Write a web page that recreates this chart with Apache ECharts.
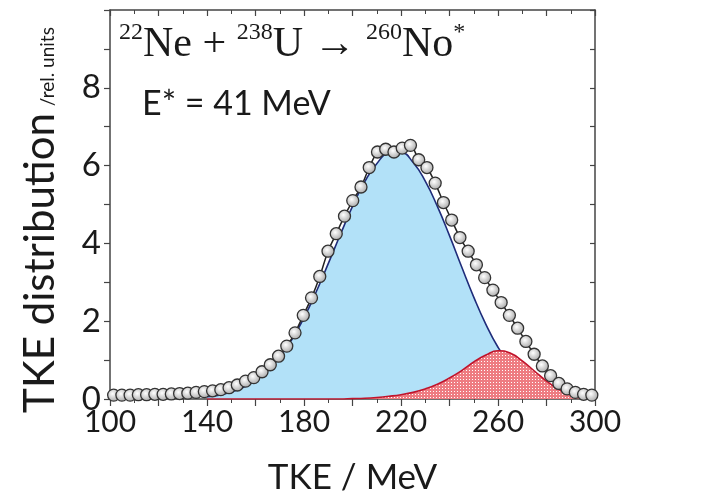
<!DOCTYPE html>
<html>
<head>
<meta charset="utf-8">
<script src="https://cdn.jsdelivr.net/npm/echarts@6/dist/echarts.min.js"></script>
<style>
  html, body { margin: 0; padding: 0; background: #fff; }
  #main { width: 711px; height: 500px; }
</style>
</head>
<body>
<div id="main"></div>
<script>
// measured TKE distribution (open circles)
var tke = [101.5, 104.9, 108.3, 111.7, 115.1, 118.5, 121.9, 125.3, 128.7, 132.1,
           135.5, 138.9, 142.3, 145.7, 149.1, 152.5, 155.9, 159.3, 162.7, 166.1,
           169.5, 172.9, 176.3, 179.7, 183.1, 186.5, 189.9, 193.3, 196.7, 200.1,
           203.5, 206.9, 210.3, 213.7, 217.1, 220.5, 223.9, 227.3, 230.7, 234.1,
           237.5, 240.9, 244.3, 247.7, 251.1, 254.5, 257.9, 261.3, 264.7, 268.1,
           271.5, 274.9, 278.3, 281.7, 285.1, 288.5, 291.9, 295.3, 298.7];
var counts = [0.10, 0.10, 0.10, 0.11, 0.11, 0.12, 0.12, 0.13, 0.14, 0.15,
              0.17, 0.19, 0.21, 0.24, 0.29, 0.36, 0.46, 0.55, 0.70, 0.88,
              1.10, 1.36, 1.70, 2.15, 2.60, 3.15, 3.80, 4.25, 4.70, 5.10,
              5.45, 5.95, 6.35, 6.42, 6.35, 6.45, 6.52, 6.15, 5.95, 5.55,
              5.05, 4.60, 4.15, 3.80, 3.45, 3.12, 2.80, 2.48, 2.15, 1.82,
              1.48, 1.15, 0.85, 0.60, 0.40, 0.26, 0.17, 0.12, 0.10];

// fit components
var fitTke = [140, 145, 150, 155, 160, 165, 170, 175, 180, 185, 190, 195, 200, 205,
              210, 215, 220, 225, 230, 235, 240, 245, 250, 255, 260, 265, 270, 275,
              280, 285, 290, 295, 300];
var symFit = [0.06, 0.10, 0.18, 0.30, 0.48, 0.73, 1.08, 1.53, 2.09, 2.75, 3.48, 4.23, 4.95, 5.58,
              6.05, 6.31, 6.33, 6.08, 5.60, 4.95, 4.20, 3.40, 2.62, 1.92, 1.33, 0.88, 0.55, 0.32,
              0.18, 0.09, 0.04, 0.02, 0.01];
var asymFit = [0, 0, 0, 0, 0, 0, 0, 0, 0, 0, 0, 0, 0.01, 0.02,
               0.04, 0.07, 0.11, 0.17, 0.26, 0.38, 0.54, 0.73, 0.95, 1.13, 1.24, 1.18, 0.98, 0.72,
               0.46, 0.25, 0.11, 0.04, 0.01];

function pairs(xs, ys) {
  var out = [];
  for (var i = 0; i < xs.length; i++) out.push([xs[i], ys[i]]);
  return out;
}

// hatched red fill
var pat = document.createElement('canvas');
pat.width = 3; pat.height = 3;
var pc = pat.getContext('2d');
pc.fillStyle = '#ee7c82';
pc.fillRect(0, 0, 3, 3);
pc.fillStyle = '#ffffff';
pc.fillRect(1, 1, 1, 1);

var axisColor = '#444';
var font = 'Lato, "Open Sans", sans-serif';
var serif = '"Liberation Serif", "DejaVu Serif", serif';

var myChart = echarts.init(document.getElementById('main'));

var option = {
  animation: false,
  backgroundColor: '#fff',
  grid: { left: 110, right: 116, top: 10, bottom: 97 },
  title: {
    left: 114, top: 16,
    text: '{s|22}{m|Ne + }{s|238}{m|U \u2192 }{s|260}{m|No}{s|*}',
    textStyle: {
      fontWeight: 'normal',
      rich: {
        m: { fontFamily: serif, fontSize: 42, fontWeight: 'normal', color: '#1a1a1a', lineHeight: 48 },
        s: { fontFamily: serif, fontSize: 24, fontWeight: 'normal', color: '#1a1a1a', verticalAlign: 'top', lineHeight: 26 }
      }
    }
  },
  graphic: [
    {
      type: 'text', left: 142, top: 87,
      style: { text: 'E* = 41 MeV', font: '34px ' + font, fill: '#1a1a1a' }
    },
    {
      type: 'text', x: 61, y: 220, rotation: Math.PI / 2,
      style: {
        text: '{a|TKE distribution}  {b|/rel. units}',
        align: 'center', verticalAlign: 'bottom',
        rich: {
          a: { fontFamily: font, fontSize: 42, fill: '#1a1a1a', lineHeight: 44, verticalAlign: 'bottom' },
          b: { fontFamily: font, fontSize: 19, fill: '#1a1a1a', lineHeight: 44, verticalAlign: 'bottom', padding: [0, 0, 4, 0] }
        }
      }
    }
  ],
  xAxis: [
    {
      type: 'value', min: 100, max: 300, interval: 20, position: 'bottom',
      name: 'TKE / MeV', nameLocation: 'middle', nameGap: 61,
      nameTextStyle: { fontFamily: font, fontSize: 35, color: '#1a1a1a' },
      axisLine: { show: true, onZero: false, lineStyle: { color: axisColor, width: 1.5 } },
      axisTick: { show: true, length: 7, lineStyle: { color: axisColor, width: 1.2 } },
      minorTick: { show: true, splitNumber: 2, length: 4, lineStyle: { color: axisColor, width: 1 } },
      axisLabel: {
        fontFamily: font, fontSize: 30, color: '#1a1a1a', margin: 8,
        formatter: function (v) { return (v - 100) % 40 === 0 ? String(v) : ''; }
      },
      splitLine: { show: false }
    },
    {
      type: 'value', min: 100, max: 300, interval: 20, position: 'top',
      axisLine: { show: true, onZero: false, lineStyle: { color: axisColor, width: 1.5 } },
      axisTick: { show: true, inside: true, length: 6, lineStyle: { color: axisColor, width: 1.2 } },
      minorTick: { show: true, splitNumber: 2, length: 4, lineStyle: { color: axisColor, width: 1 } },
      axisLabel: { show: false },
      splitLine: { show: false }
    }
  ],
  yAxis: [
    {
      type: 'value', min: 0, max: 10, interval: 1, position: 'left',
      axisLine: { show: true, onZero: false, lineStyle: { color: axisColor, width: 1.5 } },
      axisTick: { show: true, length: 6, lineStyle: { color: axisColor, width: 1.2 } },
      axisLabel: {
        fontFamily: font, fontSize: 33, color: '#1a1a1a', margin: 9,
        formatter: function (v) { return (v % 2 === 0 && v < 10) ? String(v) : ''; }
      },
      splitLine: { show: false }
    },
    {
      type: 'value', min: 0, max: 10, interval: 1, position: 'right',
      axisLine: { show: true, onZero: false, lineStyle: { color: axisColor, width: 1.5 } },
      axisTick: { show: true, inside: true, length: 5, lineStyle: { color: axisColor, width: 1.2 } },
      axisLabel: { show: false },
      splitLine: { show: false }
    }
  ],
  series: [
    {
      name: 'symmetric', type: 'line', smooth: true, symbol: 'none',
      data: pairs(fitTke, symFit),
      lineStyle: { color: '#1f2c7a', width: 1.6 },
      areaStyle: { color: '#b2e1f8', opacity: 1 },
      z: 2
    },
    {
      name: 'asymmetric', type: 'line', smooth: true, symbol: 'none',
      data: pairs(fitTke, asymFit),
      lineStyle: { color: '#c0142c', width: 1.6 },
      areaStyle: { color: { image: pat, repeat: 'repeat' }, opacity: 1 },
      z: 3
    },
    {
      name: 'data', type: 'line', smooth: 0.3,
      data: pairs(tke, counts),
      lineStyle: { color: '#222', width: 1.5 },
      symbol: 'circle', symbolSize: 12, showAllSymbol: true,
      itemStyle: {
        color: {
          type: 'radial', x: 0.42, y: 0.4, r: 0.6,
          colorStops: [{ offset: 0, color: '#ffffff' }, { offset: 1, color: '#a8a8a8' }]
        },
        borderColor: '#333', borderWidth: 1.3
      },
      z: 5
    }
  ]
};

myChart.setOption(option);
</script>
</body>
</html>
